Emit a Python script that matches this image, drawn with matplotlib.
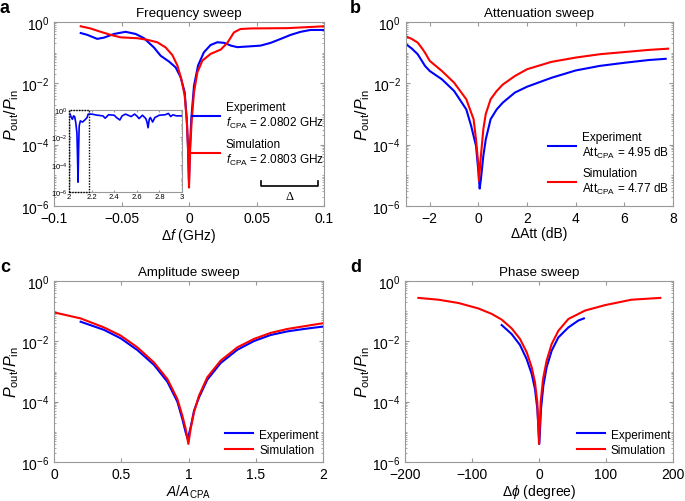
import numpy as np
import matplotlib
matplotlib.use('Agg')
import matplotlib.pyplot as plt
from matplotlib.ticker import LogLocator, NullFormatter, FixedLocator

plt.rcParams['font.family'] = ['Liberation Sans', 'DejaVu Sans']
plt.rcParams['mathtext.fontset'] = 'custom'
plt.rcParams['mathtext.rm'] = 'Liberation Sans'
plt.rcParams['mathtext.it'] = 'Liberation Sans:italic'
plt.rcParams['mathtext.bf'] = 'Liberation Sans:bold'

BLUE = '#0000ff'
RED = '#ff0000'
EDGE = '#999999'

# ---- panel a: frequency sweep (log10 of Pout/Pin) ----
fa_exp = [-0.0802, -0.0753, -0.068, -0.063, -0.0556, -0.047, -0.0395, -0.0333, -0.026,
          -0.021, -0.0148, -0.0099, -0.0062, -0.0032, -0.0017, -0.0008, 0.0, 0.0008,
          0.0017, 0.0037, 0.0067, 0.011, 0.016, 0.021, 0.026, 0.031, 0.0358, 0.043, 0.053,
          0.0605, 0.068, 0.0753, 0.0827, 0.09, 0.1]
pa_exp = [-0.36, -0.42, -0.55, -0.51, -0.39, -0.32, -0.39, -0.53, -0.83,
          -1.1, -1.29, -1.48, -1.8, -2.29, -3.16, -4.0, -5.2, -4.0,
          -3.16, -2.08, -1.42, -0.99, -0.75, -0.66, -0.68, -0.77, -0.82, -0.8, -0.77,
          -0.68, -0.55, -0.42, -0.32, -0.26, -0.26]
fa_sim = [-0.0802, -0.073, -0.0654, -0.058, -0.0506, -0.038, -0.031, -0.0235, -0.0173,
          -0.0123, -0.0086, -0.0057, -0.0032, -0.0015, -0.0007, 0.0, 0.0008, 0.002, 0.0037,
          0.0062, 0.0099, 0.016, 0.0235, 0.0284, 0.0333, 0.038, 0.0457, 0.0728, 0.1]
pa_sim = [-0.14, -0.21, -0.32, -0.42, -0.5, -0.53, -0.58, -0.66, -0.83,
          -1.08, -1.42, -1.86, -2.4, -3.3, -4.2, -5.4, -4.2, -3.2, -2.29,
          -1.64, -1.26, -1.04, -0.9, -0.68, -0.34, -0.23, -0.21, -0.2, -0.14]
# inset: wide frequency scan (GHz)
fi = [2.0, 2.01, 2.02, 2.03, 2.04, 2.05, 2.06, 2.07, 2.075, 2.08, 2.085, 2.09, 2.1, 2.12,
      2.14, 2.16, 2.17, 2.2, 2.25, 2.3, 2.32, 2.35, 2.4, 2.42, 2.45, 2.47, 2.5, 2.55, 2.58,
      2.6, 2.62, 2.65, 2.68, 2.69, 2.7, 2.71, 2.72, 2.74, 2.76, 2.8, 2.85, 2.88, 2.9, 2.92,
      2.95, 3.0]
pi_ = [-0.43, -0.3, -0.55, -0.68, -0.43, -0.48, -0.93, -1.68, -3.2, -5.28, -2.95, -1.18,
       -0.8, -0.88, -0.73, -0.55, -0.3, -0.3, -0.38, -0.43, -0.6, -0.35, -0.38, -0.55, -0.73,
       -0.43, -0.3, -0.48, -0.3, -0.43, -0.63, -0.38, -0.63, -0.88, -1.3, -0.68, -0.55, -0.88,
       -0.55, -0.38, -0.35, -0.25, -0.48, -0.35, -0.43, -0.43]
box_f = [2.0, 2.18]
bracket_f = [0.053, 0.0958]

# ---- panel b: attenuation sweep ----
ab_exp = [-3.0, -2.75, -2.5, -2.3, -2.2, -2.0, -1.5, -1.0, -0.5, -0.3, -0.1, 0.0, 0.05, 0.1,
          0.2, 0.3, 0.5, 0.75, 1.0, 1.5, 2.0, 3.0, 4.0, 5.0, 6.0, 7.0, 7.7]
pb_exp = [-0.71, -0.86, -1.05, -1.3, -1.43, -1.6, -1.87, -2.25, -2.85, -3.39, -4.04, -4.9,
          -5.43, -5.13, -4.37, -3.83, -3.17, -2.85, -2.63, -2.3, -2.11, -1.82, -1.58, -1.43,
          -1.33, -1.24, -1.2]
ab_sim = [-3.0, -2.75, -2.5, -2.3, -2.2, -2.0, -1.5, -1.0, -0.5, -0.2, -0.1, 0.0, 0.02, 0.1,
          0.2, 0.3, 0.5, 0.75, 1.0, 1.5, 2.0, 3.0, 4.0, 5.0, 6.0, 7.0, 7.8]
pb_sim = [-0.46, -0.55, -0.67, -0.88, -1.0, -1.27, -1.6, -1.98, -2.52, -3.17, -3.83, -4.7,
          -5.18, -4.37, -3.5, -3.0, -2.52, -2.25, -2.04, -1.76, -1.54, -1.3, -1.16, -1.05,
          -0.98, -0.91, -0.87]

# ---- panel c: amplitude sweep ----
ac_exp = [0.198, 0.372, 0.496, 0.62, 0.743, 0.843, 0.917, 0.954, 0.979, 0.994, 1.016, 1.041,
          1.078, 1.14, 1.239, 1.363, 1.487, 1.611, 1.735, 1.859, 2.0]
pc_exp = [-1.35, -1.62, -1.9, -2.29, -2.78, -3.34, -4.0, -4.57, -5.02, -5.24, -4.85, -4.3,
          -3.86, -3.27, -2.72, -2.28, -1.99, -1.79, -1.67, -1.59, -1.51]
ac_sim = [0.0, 0.198, 0.372, 0.496, 0.62, 0.743, 0.843, 0.917, 0.954, 0.979, 0.999, 1.016,
          1.041, 1.078, 1.14, 1.239, 1.363, 1.487, 1.611, 1.735, 1.859, 2.0]
pc_sim = [-1.04, -1.24, -1.54, -1.81, -2.2, -2.7, -3.25, -3.91, -4.46, -4.9, -5.4, -4.9,
          -4.35, -3.8, -3.19, -2.64, -2.2, -1.92, -1.72, -1.59, -1.5, -1.4]

# ---- panel d: phase sweep ----
ad_exp = [-55.7, -40.8, -28.4, -18.4, -10.9, -6.0, -2.5, 0.5, 3.0, 6.5, 11.4, 18.9, 28.9,
          43.8, 58.7, 67.0]
pd_exp = [-1.46, -1.76, -2.12, -2.59, -3.08, -3.58, -4.24, -5.4, -4.24, -3.47, -2.86, -2.31,
          -1.87, -1.54, -1.31, -1.24]
ad_sim = [-180, -150, -120, -90.5, -70.6, -55.7, -40.8, -28.4, -18.4, -10.9, -6.0, -2.5, 0.0,
          2.5, 6.0, 11.4, 18.9, 28.9, 43.8, 68.7, 98.5, 138, 181]
pd_sim = [-0.56, -0.62, -0.73, -0.91, -1.09, -1.28, -1.57, -1.92, -2.36, -2.86, -3.36, -4.02,
          -5.4, -4.02, -3.25, -2.64, -2.09, -1.65, -1.26, -0.98, -0.8, -0.62, -0.56]


def style_log(ax, fs=10):
    ax.set_yscale('log')
    ax.set_ylim(1e-6, 1)
    ax.yaxis.set_major_locator(FixedLocator([1e-6, 1e-4, 1e-2, 1e0]))
    ax.yaxis.set_minor_locator(LogLocator(base=10, subs=np.arange(1, 10), numticks=20))
    ax.yaxis.set_minor_formatter(NullFormatter())
    ax.tick_params(which='both', direction='in', top=True, right=True,
                   color=EDGE, labelsize=fs)
    ax.tick_params(which='major', length=3)
    ax.tick_params(which='minor', length=1.5)
    for s in ax.spines.values():
        s.set_color(EDGE)
        s.set_linewidth(0.8)


def legend(ax, x, y, spacing):
    ax.legend(loc='upper left', bbox_to_anchor=(x, y), frameon=False, fontsize=8.5,
              borderpad=0, borderaxespad=0, handlelength=2.4, handletextpad=0.5,
              labelspacing=spacing)


def labels(ax, title, xlabel):
    ax.set_title(title, fontsize=9.6, pad=4)
    ax.set_xlabel(xlabel, fontsize=10, labelpad=1)
    ax.set_ylabel('$P_{\\rm out}/P_{\\rm in}$', fontsize=11.5, labelpad=0)


fig = plt.figure(figsize=(6.85, 5.02), dpi=100)
W, H = 685, 502
rects = {
    'a': (54, 23, 324, 207),
    'b': (405.5, 23, 673, 207),
    'c': (54, 282, 323, 463),
    'd': (405, 282, 673, 463),
}
axs = {}
for k, (x0, y0, x1, y1) in rects.items():
    axs[k] = fig.add_axes([x0 / W, 1 - y1 / H, (x1 - x0) / W, (y1 - y0) / H])

# a
ax = axs['a']
ax.plot(fa_exp, 10 ** np.array(pa_exp), color=BLUE, lw=1.5,
        label='Experiment\n$f_{\\rm CPA}$ = 2.0802 GHz')
ax.plot(fa_sim, 10 ** np.array(pa_sim), color=RED, lw=1.5,
        label='Simulation\n$f_{\\rm CPA}$ = 2.0803 GHz')
style_log(ax)
ax.set_xlim(-0.1, 0.1)
ax.set_xticks([-0.1, -0.05, 0, 0.05, 0.1])
ax.set_xticklabels(['\u22120.1', '\u22120.05', '0', '0.05', '0.1'])
labels(ax, 'Frequency sweep', '$\\Delta f$ (GHz)')
legend(ax, 0.51, 0.57, 0.65)
trans = ax.get_xaxis_transform()
ax.plot([bracket_f[0], bracket_f[0], bracket_f[1], bracket_f[1]],
        [0.137, 0.107, 0.107, 0.137], color='k', lw=1.2, transform=trans)
ax.text(np.mean(bracket_f), 0.056, '\u0394', ha='center', va='center', fontsize=9,
        family='Liberation Serif', transform=trans)

ins = fig.add_axes([69 / W, 1 - 193 / H, 113 / W, 82 / H])
ins.plot(fi, 10 ** np.array(pi_), color=BLUE, lw=1.2)
style_log(ins, fs=5.5)
ins.tick_params(which='major', length=1.5, pad=1)
ins.tick_params(which='minor', length=0.8)
ins.set_xlim(2, 3)
ins.set_xticks([2, 2.2, 2.4, 2.6, 2.8, 3])
ins.set_xticklabels(['2', '2.2', '2.4', '2.6', '2.8', '3'])
ins.plot([box_f[0], box_f[1], box_f[1], box_f[0], box_f[0]],
         [1e-6, 1e-6, 1, 1, 1e-6], color='k', lw=1.0, ls=(0, (1, 1)),
         clip_on=False, zorder=5)

# b
ax = axs['b']
ax.plot(ab_exp, 10 ** np.array(pb_exp), color=BLUE, lw=1.5,
        label='Experiment\nAtt$_{\\rm CPA}$ = 4.95 dB')
ax.plot(ab_sim, 10 ** np.array(pb_sim), color=RED, lw=1.5,
        label='Simulation\nAtt$_{\\rm CPA}$ = 4.77 dB')
style_log(ax)
ax.set_xlim(-3, 8)
ax.set_xticks([-2, 0, 2, 4, 6, 8])
ax.set_xticklabels(['\u22122', '0', '2', '4', '6', '8'])
labels(ax, 'Attenuation sweep', '\u0394Att (dB)')
legend(ax, 0.533, 0.41, 0.6)

# c
ax = axs['c']
ax.plot(ac_exp, 10 ** np.array(pc_exp), color=BLUE, lw=1.5, label='Experiment')
ax.plot(ac_sim, 10 ** np.array(pc_sim), color=RED, lw=1.5, label='Simulation')
style_log(ax)
ax.set_xlim(0, 2)
ax.set_xticks([0, 0.5, 1, 1.5, 2])
ax.set_xticklabels(['0', '0.5', '1', '1.5', '2'])
labels(ax, 'Amplitude sweep', '$A/A_{\\rm CPA}$')
legend(ax, 0.636, 0.185, 0.3)

# d
ax = axs['d']
ax.plot(ad_exp, 10 ** np.array(pd_exp), color=BLUE, lw=1.5, label='Experiment')
ax.plot(ad_sim, 10 ** np.array(pd_sim), color=RED, lw=1.5, label='Simulation')
style_log(ax)
ax.set_xlim(-200, 200)
ax.set_xticks([-200, -100, 0, 100, 200])
ax.set_xticklabels(['\u2212200', '\u2212100', '0', '100', '200'])
labels(ax, 'Phase sweep', '$\\Delta\\phi$ (degree)')
legend(ax, 0.64, 0.185, 0.3)

for letter, (x, y) in zip('abcd', [(0, 0), (350, 0), (0, 259), (350, 259)]):
    fig.text(x / W, 1 - y / H, letter, fontsize=13, fontweight='bold', va='top', ha='left')

fig.savefig('out.png', dpi=100)
